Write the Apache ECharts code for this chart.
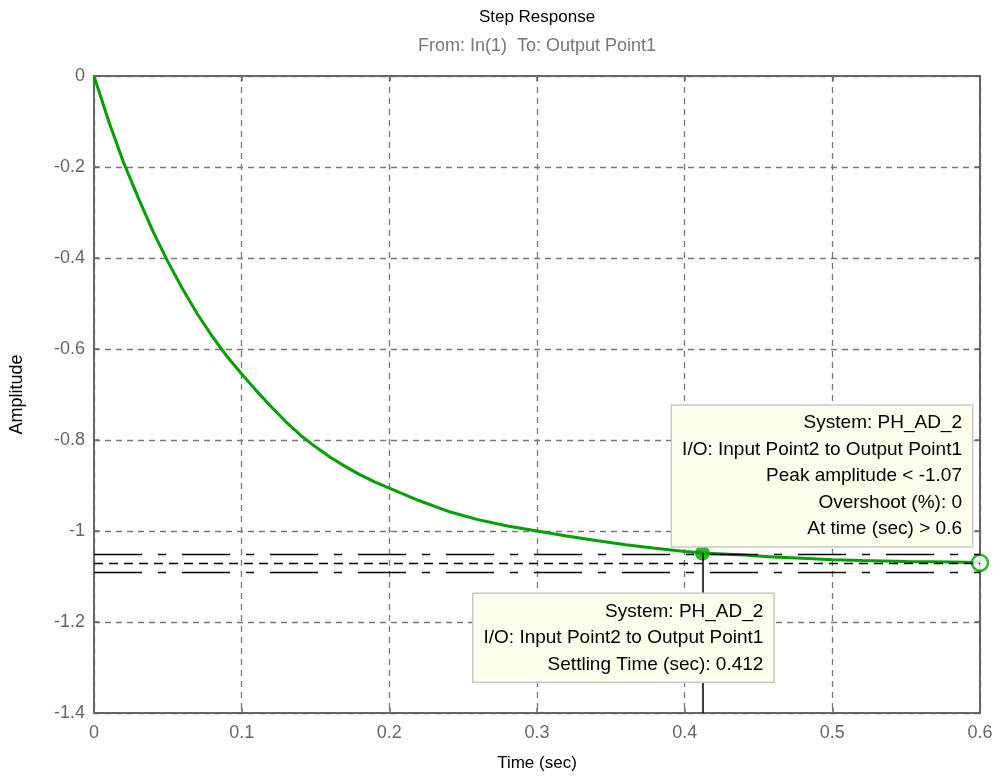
<!DOCTYPE html>
<html>
<head>
<meta charset="utf-8">
<script src="https://cdn.jsdelivr.net/npm/echarts@6/dist/echarts.min.js"></script>
<style>html,body{margin:0;padding:0;background:#fff;}#c{width:1007px;height:778px;}</style>
</head>
<body>
<div id="c"></div>
<script>
// ---- data ----
const timeSec = [0, 0.01, 0.02, 0.03, 0.04, 0.05, 0.06, 0.07, 0.08, 0.09, 0.10, 0.11, 0.12, 0.13, 0.14, 0.15, 0.16, 0.17, 0.18, 0.19, 0.20, 0.22, 0.24, 0.26, 0.28, 0.30, 0.32, 0.34, 0.36, 0.38, 0.40, 0.412, 0.44, 0.46, 0.48, 0.50, 0.52, 0.55, 0.58, 0.60];
const amplitude = [0, -0.100, -0.190, -0.268, -0.342, -0.408, -0.468, -0.523, -0.572, -0.616, -0.655, -0.692, -0.727, -0.760, -0.790, -0.815, -0.838, -0.858, -0.876, -0.892, -0.906, -0.933, -0.957, -0.975, -0.989, -1.000, -1.011, -1.021, -1.030, -1.038, -1.045, -1.0486, -1.053, -1.057, -1.060, -1.063, -1.065, -1.067, -1.068, -1.069];
const settlingPoint = [0.412, -1.0486];
const peakPoint = [0.6, -1.07];
const bandLevels = [-1.0486, -1.07, -1.0914];
const xTicks = ['0', '0.1', '0.2', '0.3', '0.4', '0.5', '0.6'];
const yTicks = ['0', '-0.2', '-0.4', '-0.6', '-0.8', '-1', '-1.2', '-1.4'];
const titleText = 'Step Response';
const subTitleText = 'From: In(1)  To: Output Point1';
const peakTip = ['System: PH_AD_2', 'I/O: Input Point2 to Output Point1', 'Peak amplitude < -1.07', 'Overshoot (%): 0', 'At time (sec) > 0.6'];
const settleTip = ['System: PH_AD_2', 'I/O: Input Point2 to Output Point1', 'Settling Time (sec): 0.412'];

const FONT = '"Liberation Sans", Arial, Helvetica, sans-serif';
const GREEN = '#00a000';
const curve = timeSec.map((t, i) => [t, amplitude[i]]);

const chart = echarts.init(document.getElementById('c'), null, {renderer: 'canvas'});
const fmtX = v => { const s = String(+(+v).toFixed(2)); return xTicks.includes(s) ? s : ''; };
const fmtY = v => { const s = String(+(+v).toFixed(2)); return yTicks.includes(s) ? s : ''; };

const axisLineStyle = {color: '#666', width: 2};
const tickStyle = {show: true, inside: true, length: 5, lineStyle: {color: '#666', width: 1.5}};
const option = {
  animation: false,
  backgroundColor: '#fff',
  textStyle: {fontFamily: FONT},
  grid: {left: 94, right: 27, top: 76, bottom: 65, containLabel: false},
  xAxis: [{
    type: 'value', min: 0, max: 0.6, interval: 0.1,
    position: 'bottom',
    name: 'Time (sec)', nameLocation: 'middle', nameGap: 42,
    nameTextStyle: {color: '#000', fontSize: 17, fontFamily: FONT},
    axisLine: {show: true, onZero: false, lineStyle: axisLineStyle},
    axisTick: tickStyle,
    axisLabel: {color: '#666', fontSize: 18, margin: 11, fontFamily: FONT, formatter: fmtX},
    splitLine: {show: true, lineStyle: {color: '#777', width: 1.3, type: [6, 5]}}
  }, {
    type: 'value', min: 0, max: 0.6, interval: 0.1, position: 'top',
    axisLine: {show: true, onZero: false, lineStyle: axisLineStyle},
    axisTick: tickStyle,
    axisLabel: {show: false}, splitLine: {show: false}
  }],
  yAxis: [{
    type: 'value', min: -1.4, max: 0, interval: 0.2,
    position: 'left',
    name: 'Amplitude', nameLocation: 'middle', nameGap: 68, nameRotate: 90,
    nameTextStyle: {color: '#000', fontSize: 18, fontFamily: FONT},
    axisLine: {show: true, onZero: false, lineStyle: axisLineStyle},
    axisTick: tickStyle,
    axisLabel: {color: '#666', fontSize: 18, margin: 9, fontFamily: FONT, formatter: fmtY},
    splitLine: {show: true, lineStyle: {color: '#777', width: 1.3, type: [6, 5]}}
  }, {
    type: 'value', min: -1.4, max: 0, interval: 0.2, position: 'right',
    axisLine: {show: true, onZero: false, lineStyle: axisLineStyle},
    axisTick: tickStyle,
    axisLabel: {show: false}, splitLine: {show: false}
  }],
  series: [
    {
      name: 'band', type: 'line', data: [], z: 1, silent: true,
      markLine: {
        silent: true, symbol: ['none', 'none'], animation: false,
        label: {show: false},
        data: [
          {yAxis: bandLevels[0], lineStyle: {color: '#000', width: 1.3, type: [48, 16, 8, 16]}},
          {yAxis: bandLevels[1], lineStyle: {color: '#000', width: 1.3, type: [9, 6]}},
          {yAxis: bandLevels[2], lineStyle: {color: '#000', width: 1.3, type: [48, 16, 8, 16]}},
          [{coord: settlingPoint, lineStyle: {color: '#000', width: 1.5, type: 'solid'}}, {coord: [settlingPoint[0], -1.4]}]
        ]
      }
    },
    {
      name: 'step', type: 'line', data: curve, z: 3, showSymbol: false, smooth: false,
      lineStyle: {color: GREEN, width: 3}, silent: true
    },
    {
      name: 'settle', type: 'scatter', data: [settlingPoint], z: 4, symbolSize: 15, clip: false,
      itemStyle: {color: GREEN}
    },
    {
      name: 'peak', type: 'scatter', data: [peakPoint], z: 4, symbolSize: 16, clip: false,
      itemStyle: {color: '#fff', borderColor: GREEN, borderWidth: 2.5}
    }
  ]
};
chart.setOption(option);

const pSettle = chart.convertToPixel({xAxisIndex: 0, yAxisIndex: 0}, settlingPoint);
const pPeak = chart.convertToPixel({xAxisIndex: 0, yAxisIndex: 0}, peakPoint);
const pTopCenter = chart.convertToPixel({xAxisIndex: 0, yAxisIndex: 0}, [0.3, 0]);

const tipStyle = {
  fill: '#000', font: '19px ' + FONT, align: 'right', verticalAlign: 'top', lineHeight: 26.5,
  backgroundColor: '#ffffee', borderColor: '#c8c8c8', borderWidth: 1.5, padding: [4, 10, 4, 10]
};
chart.setOption({
  graphic: [
    {type: 'text', z: 100, x: pTopCenter[0], y: 9, style: {text: titleText, fill: '#000', font: '17px ' + FONT, align: 'center', verticalAlign: 'top'}},
    {type: 'text', z: 100, x: pTopCenter[0], y: 37, style: {text: subTitleText, fill: '#777', font: '18px ' + FONT, align: 'center', verticalAlign: 'top'}},
    {type: 'text', z: 100, x: pPeak[0] - 8, y: pPeak[1] - 157, style: Object.assign({text: peakTip.join('\n')}, tipStyle)},
    {type: 'text', z: 100, x: pSettle[0] + 71, y: pSettle[1] + 41, style: Object.assign({text: settleTip.join('\n')}, tipStyle)}
  ]
});
</script>
</body>
</html>
